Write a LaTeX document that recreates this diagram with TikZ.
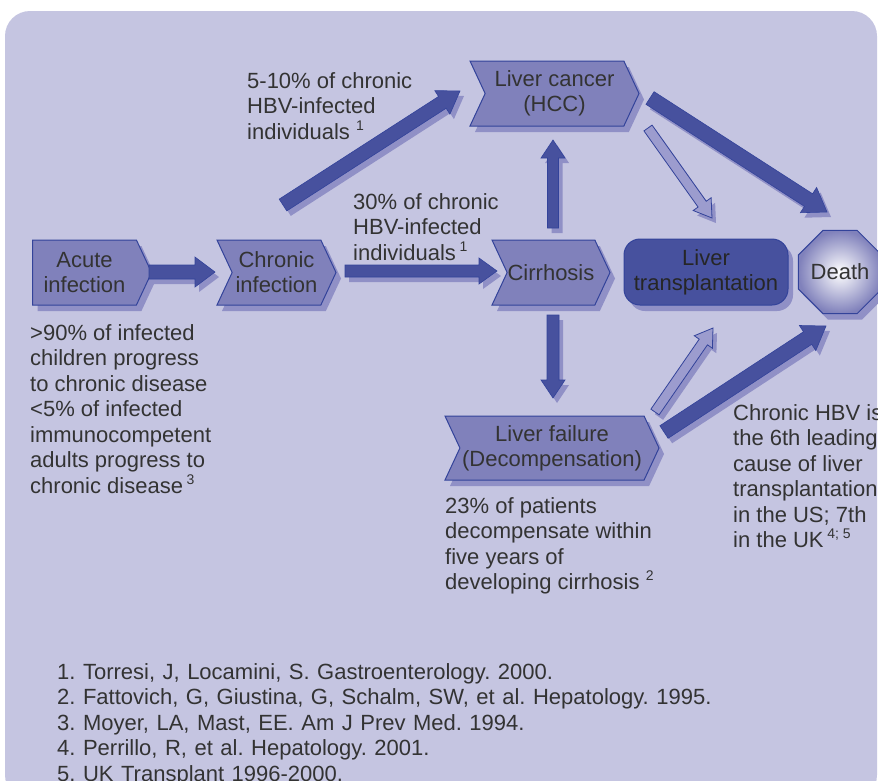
\documentclass[tikz,border=0pt]{standalone}
\usepackage{fontspec}
\setmainfont{Liberation Sans}
\usetikzlibrary{calc,shapes.symbols,shapes.geometric,shadows}
\definecolor{bgcol}{HTML}{C5C5E1}
\definecolor{nodefill}{HTML}{8081BB}
\definecolor{nodeline}{HTML}{33439A}
\definecolor{darkarr}{HTML}{47519E}
\definecolor{lightarr}{HTML}{9C9CCE}
\definecolor{shadcol}{HTML}{9090C6}
\definecolor{txtcol}{HTML}{333333}
\frenchspacing
\newcommand\sups[1]{\raisebox{9pt}{\fontsize{14}{14}\selectfont #1}}
\newcommand\arrpoly[6]{%
  \coordinate (hb) at ($(#3)!#6!(#2)$);
  \path[#1] ($(#2)!#4!90:(#3)$) -- ($(hb)!#4!90:(#3)$) -- ($(hb)!#5!90:(#3)$) -- (#3)
    -- ($(hb)!#5!-90:(#3)$) -- ($(hb)!#4!-90:(#3)$) -- ($(#2)!#4!-90:(#3)$) -- cycle;
}
\newcommand\blockarr[6]{%
  \coordinate (sa) at ($(#2)+(4,5)$);
  \coordinate (sb) at ($(#3)+(4,5)$);
  \arrpoly{fill=shadcol}{sa}{sb}{#4}{#5}{#6}
  \arrpoly{#1}{#2}{#3}{#4}{#5}{#6}
}
\begin{document}
\begin{tikzpicture}[x=1pt,y=-1pt,
  base/.style={font=\fontsize{22}{25}\selectfont, text=txtcol, align=center, inner sep=0pt, line width=1pt, draw=nodeline},
  nshadow/.style={drop shadow={shadow xshift=5pt, shadow yshift=-6pt, fill=shadcol, opacity=1}},
  chev/.style={base, nshadow, fill=nodefill, signal, signal to=east, signal from=west, signal pointer angle=130, minimum height=65pt},
  lbl/.style={anchor=base west, inner sep=0pt, text=txtcol, font=\fontsize{22}{25.5}\selectfont},
  darkst/.style={fill=darkarr, draw=nodeline, line width=0.6pt},
  lightst/.style={fill=lightarr, draw=nodeline, line width=0.8pt}
]
\useasboundingbox (0,0) rectangle (878,780);
\fill[white] (0,0) rectangle (878,780);
\fill[bgcol, rounded corners=25pt] (5,11) rectangle (877,800);

% nodes
\node[chev, signal from=nowhere, minimum width=119pt] (acute) at (84.5,272.5) {Acute\\infection};
\node[chev, minimum width=119pt] (chronic) at (276.5,272.5) {Chronic\\infection};
\node[chev, minimum width=118pt] (cirr) at (551,272.5) {Cirrhosis};
\node[chev, minimum width=169pt] (hcc) at (554.5,93.5) {Liver cancer\\(HCC)};
\node[chev, minimum width=214pt, minimum height=64pt] (lf) at (552,448) {Liver failure\\(Decompensation)};
\node[base, nshadow, fill=darkarr, rounded corners=16pt, minimum width=164pt, minimum height=66pt, text=black!85] (tx) at (706,272) {Liver\\transplantation};
\node[base, nshadow, regular polygon, regular polygon sides=8, minimum size=73.6pt, shading=radial, inner color=white, outer color=nodefill, draw=nodeline] (death) at (840,272) {Death};

% arrow end points
\coordinate (a1s) at (149,272); \coordinate (a1e) at (215,272);
\coordinate (a2s) at (345,271); \coordinate (a2e) at (497,271);
\coordinate (a3s) at (283,205); \coordinate (a3e) at (460,91);
\coordinate (a4s) at (553,228); \coordinate (a4e) at (553,140);
\coordinate (a5s) at (648,128); \coordinate (a5e) at (712,218);
\coordinate (a6s) at (650,98);  \coordinate (a6e) at (827,212);
\coordinate (a7s) at (553,315); \coordinate (a7e) at (553,398);
\coordinate (a8s) at (655,412); \coordinate (a8e) at (713,328);
\coordinate (a9s) at (664,432); \coordinate (a9e) at (826,326);

\blockarr{darkst}{a1s}{a1e}{7pt}{15pt}{20pt}
\blockarr{darkst}{a2s}{a2e}{6pt}{13pt}{18pt}
\blockarr{darkst}{a3s}{a3e}{7pt}{14pt}{21pt}
\blockarr{darkst}{a4s}{a4e}{5.5pt}{12pt}{18pt}
\blockarr{lightst}{a5s}{a5e}{5pt}{11pt}{17pt}
\blockarr{darkst}{a6s}{a6e}{7.5pt}{15pt}{22pt}
\blockarr{darkst}{a7s}{a7e}{6pt}{12pt}{18pt}
\blockarr{lightst}{a8s}{a8e}{5pt}{11pt}{17pt}
\blockarr{darkst}{a9s}{a9e}{7.5pt}{15pt}{22pt}

% labels
\node[lbl] (t1) at (247,88) {\parbox[t]{300pt}{\raggedright 5-10\% of chronic\\HBV-infected\\individuals \sups{1}}};
\node[lbl] (t2) at (353,209) {\parbox[t]{300pt}{\raggedright 30\% of chronic\\HBV-infected\\individuals\,\sups{1}}};
\node[lbl] (t3) at (30,340) {\parbox[t]{300pt}{\raggedright >90\% of infected\\children progress\\to chronic disease\\<5\% of infected\\immunocompetent\\adults progress to\\chronic disease\,\sups{3}}};
\node[lbl] (t4) at (445,513) {\parbox[t]{300pt}{\raggedright 23\% of patients\\decompensate within\\five years of\\developing cirrhosis \sups{2}}};
\node[lbl] (t5) at (733,420) {\parbox[t]{300pt}{\raggedright Chronic HBV is\\the 6th leading\\cause of liver\\transplantation\\in the US; 7th\\in the UK\,\sups{4; 5}}};
\node[lbl] (refs) at (57,679) {\parbox[t]{800pt}{\raggedright\spaceskip=7.5pt plus 1pt 1. Torresi, J, Locamini, S. Gastroenterology. 2000.\\2. Fattovich, G, Giustina, G, Schalm, SW, et al. Hepatology. 1995.\\3. Moyer, LA, Mast, EE. Am J Prev Med. 1994.\\4. Perrillo, R, et al. Hepatology. 2001.\\5. UK Transplant 1996-2000.}};
\end{tikzpicture}
\end{document}
